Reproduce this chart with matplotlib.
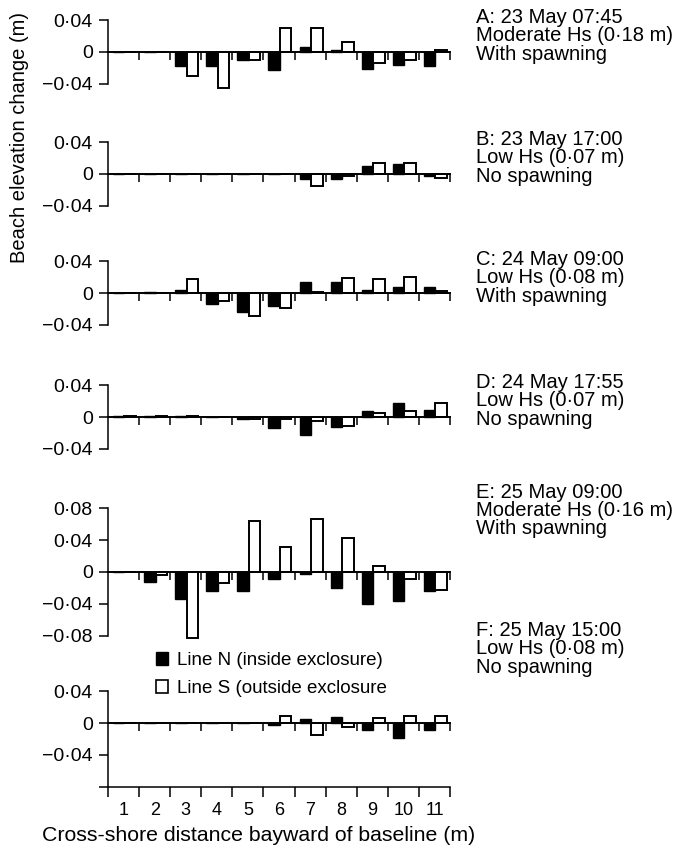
import matplotlib
matplotlib.use("Agg")
import matplotlib.pyplot as plt
from matplotlib.patches import Patch
import numpy as np

plt.rcParams['font.family'] = ['Liberation Sans', 'DejaVu Sans']

bins = list(range(1, 12))

# Beach elevation change (m), Line N (inside) and Line S (outside), per cross-shore bin
A_N = [0, 0, -0.017, -0.018, -0.010, -0.023, 0.006, 0.0025, -0.021, -0.016, -0.018]
A_S = [0, 0, -0.030, -0.045, -0.0095, 0.030, 0.030, 0.013, -0.014, -0.0095, 0.003]
B_N = [0, 0, 0, 0, 0, 0, -0.006, -0.006, 0.0097, 0.012, -0.002]
B_S = [0, 0, 0, 0, 0, 0, -0.0156, -0.002, 0.0135, 0.0135, -0.005]
C_N = [0, 0.0015, 0.004, -0.0144, -0.0235, -0.0165, 0.0136, 0.0144, 0.004, 0.007, 0.008]
C_S = [0, 0, 0.018, -0.010, -0.029, -0.019, 0.0016, 0.0186, 0.0173, 0.0198, 0.002]
D_N = [0.0008, 0.0008, 0.0008, 0, -0.002, -0.0137, -0.022, -0.0125, 0.008, 0.018, 0.009]
D_S = [0.0008, 0.0008, 0.0008, 0, -0.002, -0.0025, -0.005, -0.0117, 0.0054, 0.008, 0.0175]
E_N = [0, -0.0126, -0.0337, -0.0244, -0.0244, -0.0093, -0.003, -0.020, -0.040, -0.037, -0.0244]
E_S = [0, -0.004, -0.083, -0.0135, 0.064, 0.031, 0.067, 0.043, 0.008, -0.0084, -0.023]
F_N = [0, 0, 0, 0, 0, -0.003, 0.0046, 0.0076, -0.0084, -0.019, -0.0093]
F_S = [0, 0, 0, 0, 0, 0.0088, -0.0156, -0.005, 0.0067, 0.0084, 0.0084]

panel_text = [
    "A: 23 May 07:45\nModerate Hs (0·18 m)\nWith spawning",
    "B: 23 May 17:00\nLow Hs (0·07 m)\nNo spawning",
    "C: 24 May 09:00\nLow Hs (0·08 m)\nWith spawning",
    "D: 24 May 17:55\nLow Hs (0·07 m)\nNo spawning",
    "E: 25 May 09:00\nModerate Hs (0·16 m)\nWith spawning",
    "F: 25 May 15:00\nLow Hs (0·08 m)\nNo spawning",
]
series = [(A_N, A_S), (B_N, B_S), (C_N, C_S), (D_N, D_S), (E_N, E_S), (F_N, F_S)]

W, H = 688, 847
fig = plt.figure(figsize=(W / 100, H / 100), dpi=100)
S = 797.0  # px per metre elevation

zeros = [52, 174, 293, 417, 572, 723]
bounds = [(-0.04, 0.04)] * 4 + [(-0.08, 0.08), (-0.08, 0.04)]
text_y = [18, 140, 260, 383, 493, 631]

def fmt(v):
    if abs(v) < 1e-9:
        return "0"
    s = f"{abs(v):.2f}".replace(".", "·")
    return ("−" if v < 0 else "") + s

fs_text = 14.5
fs_ytick = 14
fs_xtick = 13
axes = []
for i, ((nv, sv), z, (lo, hi)) in enumerate(zip(series, zeros, bounds)):
    ylo, yhi = lo - 0.012, hi + 0.006
    top_px = z - yhi * S
    bot_px = z - ylo * S
    ax = fig.add_axes([108 / W, 1 - bot_px / H, 342 / W, (bot_px - top_px) / H])
    ax.set_xlim(0, 11)
    ax.set_ylim(ylo, yhi)
    x = np.array(bins) - 1
    ax.bar(x + 0.345, nv, width=0.37, color="black", edgecolor="black", linewidth=1.0, zorder=3)
    ax.bar(x + 0.715, sv, width=0.37, color="white", edgecolor="black", linewidth=1.4, zorder=3)
    ax.plot([0, 11], [0, 0], color="black", lw=1.4, zorder=4, clip_on=False)
    ax.vlines(bins, -0.0105, 0, color="black", lw=1.1, zorder=4, clip_on=False)
    for sp in ["top", "right"]:
        ax.spines[sp].set_visible(False)
    ax.spines["left"].set_bounds(lo, hi)
    ax.spines["left"].set_linewidth(1.1)
    ticks = list(np.round(np.arange(lo, hi + 1e-9, 0.04), 2))
    ax.set_yticks(ticks)
    labels = [fmt(t) for t in ticks]
    if i == 5:
        labels[0] = ""
    ax.set_yticklabels(labels, fontsize=fs_ytick)
    ax.tick_params(axis="y", length=6.5, width=1.1, pad=4.5)
    if i < 5:
        ax.spines["bottom"].set_visible(False)
        ax.set_xticks([])
    else:
        ax.spines["bottom"].set_position(("data", -0.08))
        ax.spines["bottom"].set_linewidth(1.1)
        ax.set_xticks(range(0, 12))
        ax.set_xticklabels([])
        ax.tick_params(axis="x", which="major", length=7, width=1.1, direction="out")
        ax.set_xticks(np.arange(0.5, 11, 1), minor=True)
        ax.set_xticklabels([str(b) for b in bins], minor=True, fontsize=fs_xtick)
        ax.tick_params(axis="x", which="minor", length=0, pad=11)
    ax.patch.set_alpha(0)
    fig.text(476 / W, 1 - (text_y[i] - 10) / H, panel_text[i], fontsize=fs_text,
             va="top", ha="left", linespacing=0.95)
    axes.append(ax)

fig.text(259 / W, 1 - 835 / H, "Cross-shore distance bayward of baseline (m)",
         fontsize=15.3, ha="center", va="center")
fig.text(20 / W, 1 - 137 / H, "Beach elevation change (m)", rotation=90,
         fontsize=fs_text, ha="center", va="center")

handles = [Patch(facecolor="black", edgecolor="black", linewidth=1.0),
           Patch(facecolor="white", edgecolor="black", linewidth=1.2)]
fig.legend(handles, ["Line N (inside exclosure)", "Line S (outside exclosure"],
           loc="upper left", bbox_to_anchor=(156 / W, 1 - 652 / H), frameon=False,
           fontsize=13.5, handlelength=0.65, handleheight=0.65, handletextpad=0.45,
           labelspacing=0.6, borderaxespad=0, borderpad=0)

fig.savefig("out.png", dpi=100)
